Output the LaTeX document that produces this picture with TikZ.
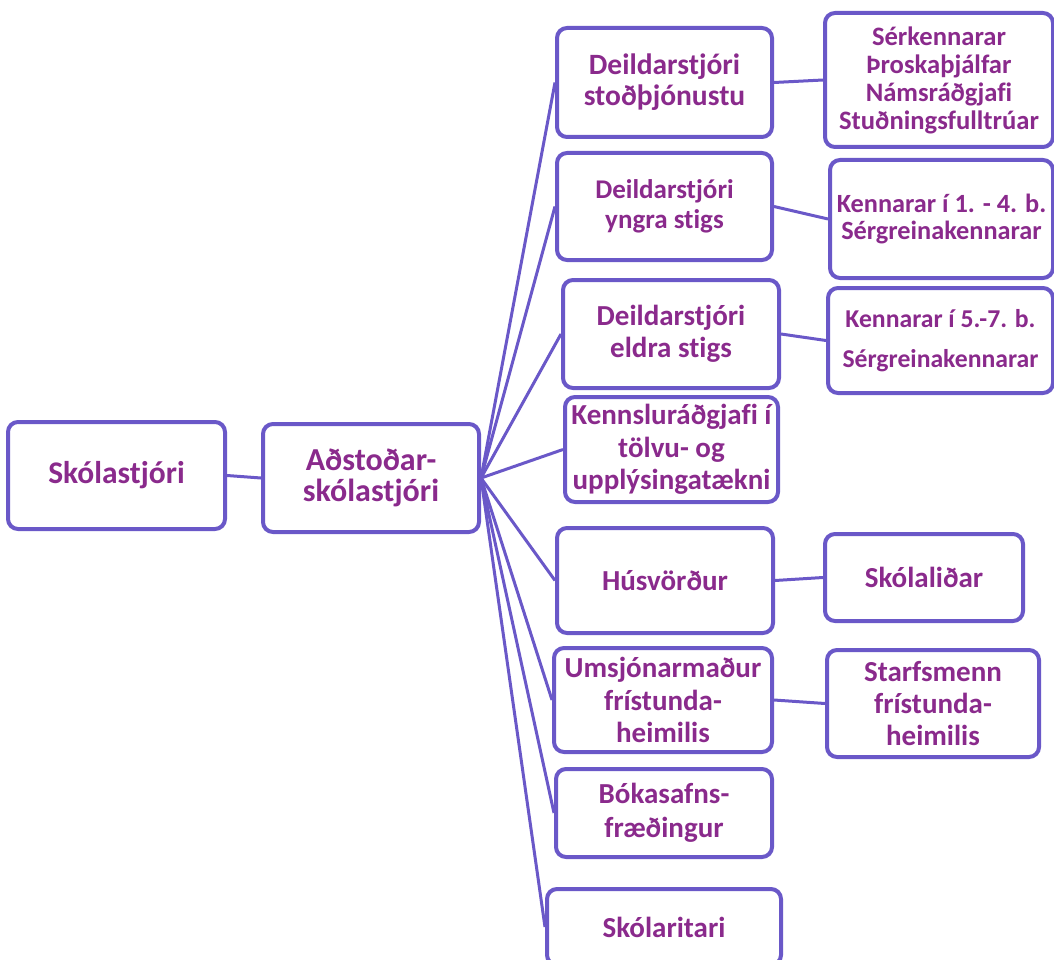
\documentclass[tikz,border=0pt]{standalone}
\usepackage{fontspec}
\setmainfont{Carlito}[Ligatures={NoCommon}]
\definecolor{boxline}{HTML}{6A58C8}
\definecolor{txt}{HTML}{8A2A8C}
\tikzset{
  orgbox/.style={draw=boxline, line width=4pt, rounded corners=10pt, fill=white,
    text=txt, align=center, inner sep=0pt, font=\bfseries},
  link/.style={draw=boxline, line width=3pt},
}
\newcommand{\fs}[2]{\fontsize{#1}{#2}\selectfont\bfseries}
\begin{document}
\begin{tikzpicture}[x=1pt,y=-1pt]
\useasboundingbox (0,0) rectangle (1054,960);
\clip (0,0) rectangle (1054,960);
% level 0/1
\node[orgbox, minimum width=217pt, minimum height=107pt, font=\fs{31.5}{32}] (sk) at (116.5,475.5) {Skólastjóri};
\node[orgbox, minimum width=216pt, minimum height=108pt, font=\fs{32}{31}] (ad) at (371,478) {Aðstoðar-\\skólastjóri};
% level 2
\node[orgbox, minimum width=215pt, minimum height=109pt, font=\fs{29.5}{31}] (d1) at (664.5,82.5) {Deildarstjóri\\stoðþjónustu};
\node[orgbox, minimum width=215pt, minimum height=107pt, font=\fs{27}{30}] (d2) at (664.5,206.5) {Deildarstjóri\\yngra stigs};
\node[orgbox, minimum width=216pt, minimum height=108pt, font=\fs{29}{32}] (d3) at (671,334) {Deildarstjóri\\eldra stigs};
\node[orgbox, minimum width=213pt, minimum height=105pt, font=\fs{29}{32.5}] (kr) at (671.5,449.5) {Kennsluráðgjafi í\\tölvu- og\\upplýsingatækni};
\node[orgbox, minimum width=216pt, minimum height=105pt, font=\fs{29}{32}] (hv) at (665,580.5) {Húsvörður};
\node[orgbox, minimum width=218pt, minimum height=104pt, font=\fs{29}{32.5}] (um) at (663,700) {Umsjónarmaður\\frístunda-\\heimilis};
\node[orgbox, minimum width=216pt, minimum height=88pt, font=\fs{29}{34}] (bk) at (664,813) {Bókasafns-\\fræðingur};
\node[orgbox, minimum width=234pt, minimum height=76pt, font=\fs{29}{32}] (sr) at (664,927) {Skólaritari};
% level 3
\node[orgbox, minimum width=228pt, minimum height=134pt, font=\fs{26.6}{28}] (g1) at (939,80) {Sérkennarar\\Þroskaþjálfar\\Námsráðgjafi\\Stuðningsfulltrúar};
\node[orgbox, minimum width=223pt, minimum height=118pt, font=\fs{26.3}{27}] (g2) at (941.5,219) {Kennarar í 1. - 4. b.\\Sérgreinakennarar};
\node[orgbox, minimum width=225pt, minimum height=105pt, font=\fs{25.7}{40}] (g3) at (940.5,340.5) {Kennarar í 5.-7. b.\\Sérgreinakennarar};
\node[orgbox, minimum width=198pt, minimum height=87pt, font=\fs{29}{32}] (g4) at (924,577.5) {Skólaliðar};
\node[orgbox, minimum width=212pt, minimum height=107pt, font=\fs{29}{32}] (g5) at (933,703.5) {Starfsmenn\\frístunda-\\heimilis};
% connectors
\draw[link] (sk.east) -- (ad.west);
\foreach \c in {d1,d2,d3,kr,hv,um,bk,sr} \draw[link] (ad.east) -- (\c.west);
\draw[link] (d1.east) -- (g1.west);
\draw[link] (d2.east) -- (g2.west);
\draw[link] (d3.east) -- (g3.west);
\draw[link] (hv.east) -- (g4.west);
\draw[link] (um.east) -- (g5.west);
\end{tikzpicture}
\end{document}
